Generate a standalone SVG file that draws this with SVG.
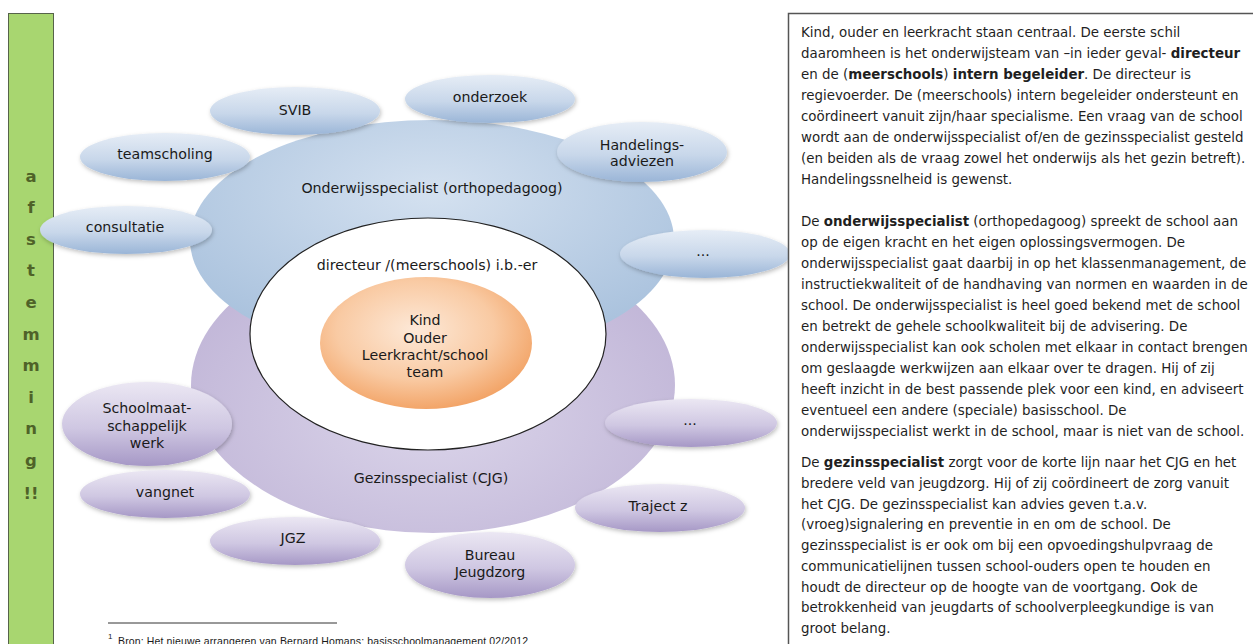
<svg xmlns="http://www.w3.org/2000/svg" width="1253" height="644" viewBox="0 0 1253 644">
<defs>
<style>
.lbl{font-family:"DejaVu Sans",Verdana,sans-serif;font-size:14.2px;fill:#1a1a1a;text-anchor:middle}
.side{font-family:"DejaVu Sans",Verdana,sans-serif;font-size:16.5px;font-weight:bold;fill:#4f6228;text-anchor:middle}
.body{font-family:"DejaVu Sans",Verdana,sans-serif;font-size:13.4px;fill:#1f1f1f}
.b{font-weight:bold}
.satB{fill:url(#gSatB);filter:url(#sh)}
.satP{fill:url(#gSatP);filter:url(#sh)}
</style>
<linearGradient id="gSatB" x1="0" y1="0" x2="0" y2="1">
<stop offset="0" stop-color="#e6edf6"/><stop offset="0.55" stop-color="#c8d7ea"/><stop offset="1" stop-color="#9ab5d7"/>
</linearGradient>
<linearGradient id="gSatP" x1="0" y1="0" x2="0" y2="1">
<stop offset="0" stop-color="#ebe7f3"/><stop offset="0.55" stop-color="#cfc7e2"/><stop offset="1" stop-color="#a698c6"/>
</linearGradient>
<radialGradient id="gBigB" cx="0.5" cy="0.3" r="0.7">
<stop offset="0" stop-color="#d4e1f0"/><stop offset="1" stop-color="#a7c0dc"/>
</radialGradient>
<radialGradient id="gBigP" cx="0.5" cy="0.6" r="0.7">
<stop offset="0" stop-color="#dbd5ea"/><stop offset="1" stop-color="#bcb0d4"/>
</radialGradient>
<radialGradient id="gOr" cx="0.45" cy="0.4" r="0.62">
<stop offset="0" stop-color="#fde9d8"/><stop offset="0.6" stop-color="#f9caa3"/><stop offset="1" stop-color="#f2a264"/>
</radialGradient>
<filter id="sh" x="-20%" y="-30%" width="140%" height="170%">
<feDropShadow dx="1" dy="2" stdDeviation="2" flood-color="#000" flood-opacity="0.25"/>
</filter>
</defs>
<rect width="1253" height="644" fill="#fff"/>

<g id="side-bar">
<rect x="8.5" y="13.5" width="45" height="640" fill="#a8d670" stroke="#56634a" stroke-width="1"/>
<text class="side" x="31" y="181.5">a</text>
<text class="side" x="31" y="213.1">f</text>
<text class="side" x="31" y="244.7">s</text>
<text class="side" x="31" y="276.3">t</text>
<text class="side" x="31" y="307.9">e</text>
<text class="side" x="31" y="339.5">m</text>
<text class="side" x="31" y="371.1">m</text>
<text class="side" x="31" y="402.7">i</text>
<text class="side" x="31" y="434.3">n</text>
<text class="side" x="31" y="465.9">g</text>
<text class="side" x="31" y="498.5">!!</text>
</g>

<g id="gezinsspecialist">
<ellipse cx="433" cy="385" rx="242" ry="148" fill="url(#gBigP)"/>
<text class="lbl" x="431" y="483">Gezinsspecialist (CJG)</text>
</g>
<g id="onderwijsspecialist">
<ellipse cx="432" cy="240" rx="242" ry="120" fill="url(#gBigB)"/>
<text class="lbl" x="432" y="193">Onderwijsspecialist (orthopedagoog)</text>
</g>
<g id="directeur">
<ellipse cx="428" cy="334" rx="178" ry="116" fill="#fff" stroke="#222" stroke-width="1.2"/>
<text class="lbl" x="427" y="270">directeur /(meerschools) i.b.-er</text>
</g>
<g id="kind">
<ellipse cx="426" cy="343" rx="106" ry="66" fill="url(#gOr)"/>
<text class="lbl" x="425" y="325">Kind</text>
<text class="lbl" x="425" y="343">Ouder</text>
<text class="lbl" x="425" y="360">Leerkracht/school</text>
<text class="lbl" x="425" y="377">team</text>
</g>

<g id="svib"><ellipse class="satB" cx="295" cy="111" rx="85" ry="24"/><text class="lbl" x="295" y="115">SVIB</text></g>
<g id="onderzoek"><ellipse class="satB" cx="490" cy="99" rx="85" ry="24"/><text class="lbl" x="490" y="102">onderzoek</text></g>
<g id="teamscholing"><ellipse class="satB" cx="165" cy="157" rx="85" ry="24"/><text class="lbl" x="165" y="159">teamscholing</text></g>
<g id="handelingsadviezen"><ellipse class="satB" cx="642" cy="152" rx="85" ry="30"/><text class="lbl" x="642" y="150">Handelings-</text><text class="lbl" x="642" y="166">adviezen</text></g>
<g id="consultatie"><ellipse class="satB" cx="126" cy="230" rx="86" ry="24"/><text class="lbl" x="125" y="232">consultatie</text></g>
<g id="blue-more"><ellipse class="satB" cx="705" cy="254" rx="85" ry="24"/><text class="lbl" x="703" y="256">...</text></g>

<g id="schoolmaatschappelijk"><ellipse class="satP" cx="147" cy="424" rx="85" ry="42"/><text class="lbl" x="147" y="413">Schoolmaat-</text><text class="lbl" x="147" y="431">schappelijk</text><text class="lbl" x="147" y="448">werk</text></g>
<g id="vangnet"><ellipse class="satP" cx="165" cy="494" rx="85" ry="24"/><text class="lbl" x="165" y="497">vangnet</text></g>
<g id="jgz"><ellipse class="satP" cx="295" cy="541" rx="85" ry="24"/><text class="lbl" x="293" y="543">JGZ</text></g>
<g id="bureau-jeugdzorg"><ellipse class="satP" cx="490" cy="565" rx="85" ry="33"/><text class="lbl" x="490" y="560">Bureau</text><text class="lbl" x="490" y="577">Jeugdzorg</text></g>
<g id="traject-z"><ellipse class="satP" cx="660" cy="508" rx="85" ry="24"/><text class="lbl" x="658" y="511">Traject z</text></g>
<g id="purple-more"><ellipse class="satP" cx="691" cy="423" rx="86" ry="24"/><text class="lbl" x="690" y="425">...</text></g>

<g id="connectors"></g>

<g id="footnote">
<line x1="108" y1="623" x2="337" y2="623" stroke="#333" stroke-width="1"/>
<text x="108" y="639" font-family="Liberation Sans,Arial,sans-serif" font-size="8px" fill="#1a1a1a">1</text>
<text x="118" y="645" font-family="Liberation Sans,Arial,sans-serif" font-size="10.5px" fill="#1a1a1a" textLength="410">Bron: Het nieuwe arrangeren van Bernard Homans; basisschoolmanagement 02/2012</text>
</g>

<g id="text-box">
<rect x="788.5" y="13.5" width="480" height="650" fill="#fff" stroke="#555" stroke-width="1.5"/>
<text class="body" x="801" y="37">Kind, ouder en leerkracht staan centraal. De eerste schil</text>
<text class="body" x="801" y="58">daaromheen is het onderwijsteam van –in ieder geval- <tspan class="b">directeur</tspan></text>
<text class="body" x="801" y="79">en de (<tspan class="b">meerschools</tspan>) <tspan class="b">intern begeleider</tspan>. De directeur is</text>
<text class="body" x="801" y="100">regievoerder. De (meerschools) intern begeleider ondersteunt en</text>
<text class="body" x="801" y="121">coördineert vanuit zijn/haar specialisme. Een vraag van de school</text>
<text class="body" x="801" y="142">wordt aan de onderwijsspecialist of/en de gezinsspecialist gesteld</text>
<text class="body" x="801" y="163">(en beiden als de vraag zowel het onderwijs als het gezin betreft).</text>
<text class="body" x="801" y="184">Handelingssnelheid is gewenst.</text>
<text class="body" x="801" y="226">De <tspan class="b">onderwijsspecialist</tspan> (orthopedagoog) spreekt de school aan</text>
<text class="body" x="801" y="247">op de eigen kracht en het eigen oplossingsvermogen. De</text>
<text class="body" x="801" y="268">onderwijsspecialist gaat daarbij in op het klassenmanagement, de</text>
<text class="body" x="801" y="289">instructiekwaliteit of de handhaving van normen en waarden in de</text>
<text class="body" x="801" y="310">school. De onderwijsspecialist is heel goed bekend met de school</text>
<text class="body" x="801" y="331">en betrekt de gehele schoolkwaliteit bij de advisering. De</text>
<text class="body" x="801" y="352">onderwijsspecialist kan ook scholen met elkaar in contact brengen</text>
<text class="body" x="801" y="373">om geslaagde werkwijzen aan elkaar over te dragen. Hij of zij</text>
<text class="body" x="801" y="394">heeft inzicht in de best passende plek voor een kind, en adviseert</text>
<text class="body" x="801" y="415">eventueel een andere (speciale) basisschool. De</text>
<text class="body" x="801" y="436">onderwijsspecialist werkt in de school, maar is niet van de school.</text>
<text class="body" x="801" y="467">De <tspan class="b">gezinsspecialist</tspan> zorgt voor de korte lijn naar het CJG en het</text>
<text class="body" x="801" y="488">bredere veld van jeugdzorg. Hij of zij coördineert de zorg vanuit</text>
<text class="body" x="801" y="508.5">het CJG. De gezinsspecialist kan advies geven t.a.v.</text>
<text class="body" x="801" y="529">(vroeg)signalering en preventie in en om de school. De</text>
<text class="body" x="801" y="550">gezinsspecialist is er ook om bij een opvoedingshulpvraag de</text>
<text class="body" x="801" y="571">communicatielijnen tussen school-ouders open te houden en</text>
<text class="body" x="801" y="591.5">houdt de directeur op de hoogte van de voortgang. Ook de</text>
<text class="body" x="801" y="612">betrokkenheid van jeugdarts of schoolverpleegkundige is van</text>
<text class="body" x="801" y="633">groot belang.</text>
</g>
</svg>
